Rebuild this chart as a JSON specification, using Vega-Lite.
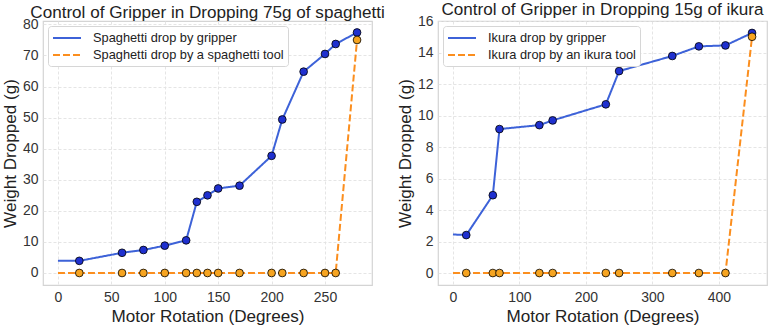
{
  "$schema": "https://vega.github.io/schema/vega-lite/v6.json",
  "padding": {"left": 0, "top": 0, "right": 0, "bottom": 0},
  "background": "white",
  "config": {
    "font": "Liberation Sans",
    "view": {"stroke": "#d4d4d4", "strokeWidth": 1.2},
    "axis": {
      "grid": true, "gridColor": "#e2e2e2", "gridDash": [3, 2], "gridWidth": 0.9,
      "domain": false, "ticks": false, "labelOverlap": false,
      "labelFontSize": 14, "labelColor": "#333333", "labelPadding": 5,
      "titleFontSize": 17.1, "titleFontWeight": "normal", "titleColor": "#222222", "titlePadding": 3
    },
    "title": {"fontSize": 17.1, "fontWeight": "normal", "color": "#222222", "offset": -4},
    "legend": {
      "orient": "top-left", "symbolType": "M-2,0H2", "symbolSize": 196, "symbolOffset": 7,
      "symbolStrokeWidth": 2, "labelFontSize": 12.8, "labelColor": "#222222", "labelLimit": 0,
      "fillColor": "white", "strokeColor": "#d6d6d6", "padding": 4, "cornerRadius": 3,
      "offset": 5, "rowPadding": 2, "labelOffset": 18
    }
  },
  "datasets": {
    "spaghetti": [
      {"series": "Spaghetti drop by gripper", "x": 0, "y": 3.9},
      {"series": "Spaghetti drop by gripper", "x": 20, "y": 3.9},
      {"series": "Spaghetti drop by gripper", "x": 60, "y": 6.5},
      {"series": "Spaghetti drop by gripper", "x": 80, "y": 7.4},
      {"series": "Spaghetti drop by gripper", "x": 100, "y": 8.8},
      {"series": "Spaghetti drop by gripper", "x": 120, "y": 10.5},
      {"series": "Spaghetti drop by gripper", "x": 130, "y": 22.9},
      {"series": "Spaghetti drop by gripper", "x": 140, "y": 25.0},
      {"series": "Spaghetti drop by gripper", "x": 150, "y": 27.2},
      {"series": "Spaghetti drop by gripper", "x": 170, "y": 28.1},
      {"series": "Spaghetti drop by gripper", "x": 200, "y": 37.7},
      {"series": "Spaghetti drop by gripper", "x": 210, "y": 49.4},
      {"series": "Spaghetti drop by gripper", "x": 230, "y": 64.8},
      {"series": "Spaghetti drop by gripper", "x": 250, "y": 70.5},
      {"series": "Spaghetti drop by gripper", "x": 260, "y": 73.7},
      {"series": "Spaghetti drop by gripper", "x": 280, "y": 77.4},
      {"series": "Spaghetti drop by a spaghetti tool", "x": 0, "y": 0},
      {"series": "Spaghetti drop by a spaghetti tool", "x": 20, "y": 0},
      {"series": "Spaghetti drop by a spaghetti tool", "x": 60, "y": 0},
      {"series": "Spaghetti drop by a spaghetti tool", "x": 80, "y": 0},
      {"series": "Spaghetti drop by a spaghetti tool", "x": 100, "y": 0},
      {"series": "Spaghetti drop by a spaghetti tool", "x": 120, "y": 0},
      {"series": "Spaghetti drop by a spaghetti tool", "x": 130, "y": 0},
      {"series": "Spaghetti drop by a spaghetti tool", "x": 140, "y": 0},
      {"series": "Spaghetti drop by a spaghetti tool", "x": 150, "y": 0},
      {"series": "Spaghetti drop by a spaghetti tool", "x": 170, "y": 0},
      {"series": "Spaghetti drop by a spaghetti tool", "x": 200, "y": 0},
      {"series": "Spaghetti drop by a spaghetti tool", "x": 210, "y": 0},
      {"series": "Spaghetti drop by a spaghetti tool", "x": 230, "y": 0},
      {"series": "Spaghetti drop by a spaghetti tool", "x": 250, "y": 0},
      {"series": "Spaghetti drop by a spaghetti tool", "x": 260, "y": 0},
      {"series": "Spaghetti drop by a spaghetti tool", "x": 280, "y": 75}
    ],
    "ikura": [
      {"series": "Ikura drop by gripper", "x": 0, "y": 2.45},
      {"series": "Ikura drop by gripper", "x": 20, "y": 2.41},
      {"series": "Ikura drop by gripper", "x": 60, "y": 4.94},
      {"series": "Ikura drop by gripper", "x": 70, "y": 9.14},
      {"series": "Ikura drop by gripper", "x": 130, "y": 9.39},
      {"series": "Ikura drop by gripper", "x": 150, "y": 9.69},
      {"series": "Ikura drop by gripper", "x": 230, "y": 10.71},
      {"series": "Ikura drop by gripper", "x": 250, "y": 12.82},
      {"series": "Ikura drop by gripper", "x": 330, "y": 13.78},
      {"series": "Ikura drop by gripper", "x": 370, "y": 14.39},
      {"series": "Ikura drop by gripper", "x": 410, "y": 14.45},
      {"series": "Ikura drop by gripper", "x": 450, "y": 15.24},
      {"series": "Ikura drop by an ikura tool", "x": 0, "y": 0},
      {"series": "Ikura drop by an ikura tool", "x": 20, "y": 0},
      {"series": "Ikura drop by an ikura tool", "x": 60, "y": 0},
      {"series": "Ikura drop by an ikura tool", "x": 70, "y": 0},
      {"series": "Ikura drop by an ikura tool", "x": 130, "y": 0},
      {"series": "Ikura drop by an ikura tool", "x": 150, "y": 0},
      {"series": "Ikura drop by an ikura tool", "x": 230, "y": 0},
      {"series": "Ikura drop by an ikura tool", "x": 250, "y": 0},
      {"series": "Ikura drop by an ikura tool", "x": 330, "y": 0},
      {"series": "Ikura drop by an ikura tool", "x": 370, "y": 0},
      {"series": "Ikura drop by an ikura tool", "x": 410, "y": 0},
      {"series": "Ikura drop by an ikura tool", "x": 450, "y": 15.0}
    ]
  },
  "spacing": 9,
  "hconcat": [
    {
      "width": 329, "height": 264,
      "title": "Control of Gripper in Dropping 75g of spaghetti",
      "data": {"name": "spaghetti"},
      "encoding": {
        "x": {"field": "x", "type": "quantitative", "title": "Motor Rotation (Degrees)", "scale": {"domain": [-14, 294], "nice": false, "zero": false}, "axis": {"values": [0, 50, 100, 150, 200, 250]}},
        "y": {"field": "y", "type": "quantitative", "title": "Weight Dropped (g)", "scale": {"domain": [-3.87, 81.1], "nice": false, "zero": false}, "axis": {"values": [0, 10, 20, 30, 40, 50, 60, 70, 80]}}
      },
      "layer": [
        {
          "mark": {"type": "line", "strokeWidth": 2},
          "encoding": {
            "color": {"field": "series", "type": "nominal", "title": null, "scale": {"domain": ["Spaghetti drop by gripper", "Spaghetti drop by a spaghetti tool"], "range": ["#3d62d8", "#fb8e1e"]}},
            "strokeDash": {"field": "series", "type": "nominal", "title": null, "scale": {"domain": ["Spaghetti drop by gripper", "Spaghetti drop by a spaghetti tool"], "range": [[1, 0], [7, 3]]}}
          }
        },
        {
          "transform": [{"filter": "datum.x > 0"}],
          "mark": {"type": "point", "filled": true, "stroke": "black", "strokeWidth": 0.8, "size": 60, "opacity": 1},
          "encoding": {
            "fill": {"field": "series", "type": "nominal", "title": null, "scale": {"domain": ["Spaghetti drop by gripper", "Spaghetti drop by a spaghetti tool"], "range": ["#1f30cf", "#f6a420"]}}
          }
        }
      ]
    },
    {
      "width": 329, "height": 264,
      "title": "Control of Gripper in Dropping 15g of ikura",
      "data": {"name": "ikura"},
      "encoding": {
        "x": {"field": "x", "type": "quantitative", "title": "Motor Rotation (Degrees)", "scale": {"domain": [-22.5, 472.5], "nice": false, "zero": false}, "axis": {"values": [0, 100, 200, 300, 400]}},
        "y": {"field": "y", "type": "quantitative", "title": "Weight Dropped (g)", "scale": {"domain": [-0.76, 16.0], "nice": false, "zero": false}, "axis": {"values": [0, 2, 4, 6, 8, 10, 12, 14, 16]}}
      },
      "layer": [
        {
          "mark": {"type": "line", "strokeWidth": 2},
          "encoding": {
            "color": {"field": "series", "type": "nominal", "title": null, "scale": {"domain": ["Ikura drop by gripper", "Ikura drop by an ikura tool"], "range": ["#3d62d8", "#fb8e1e"]}},
            "strokeDash": {"field": "series", "type": "nominal", "title": null, "scale": {"domain": ["Ikura drop by gripper", "Ikura drop by an ikura tool"], "range": [[1, 0], [7, 3]]}}
          }
        },
        {
          "transform": [{"filter": "datum.x > 0"}],
          "mark": {"type": "point", "filled": true, "stroke": "black", "strokeWidth": 0.8, "size": 60, "opacity": 1},
          "encoding": {
            "fill": {"field": "series", "type": "nominal", "title": null, "scale": {"domain": ["Ikura drop by gripper", "Ikura drop by an ikura tool"], "range": ["#1f30cf", "#f6a420"]}}
          }
        }
      ]
    }
  ],
  "resolve": {
    "scale": {"x": "independent", "y": "independent", "color": "independent", "strokeDash": "independent", "fill": "independent"},
    "legend": {"color": "independent", "strokeDash": "independent", "fill": "independent"}
  }
}
